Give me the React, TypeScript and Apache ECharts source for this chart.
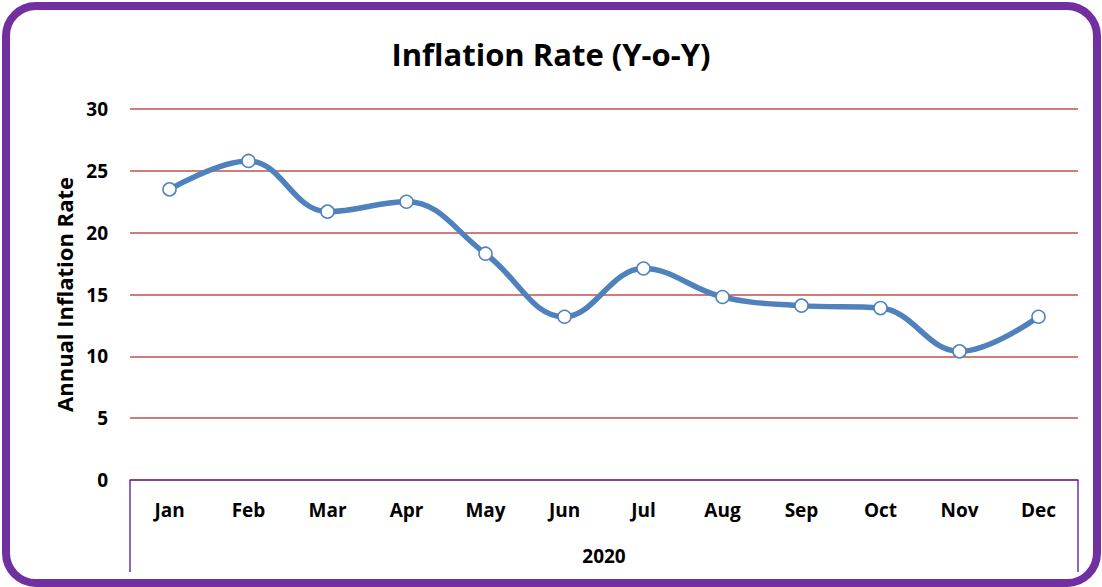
import React, { useEffect, useRef } from "react";
import * as echarts from "echarts";

const months = ["Jan", "Feb", "Mar", "Apr", "May", "Jun", "Jul", "Aug", "Sep", "Oct", "Nov", "Dec"];
const inflation = [23.5, 25.8, 21.7, 22.5, 18.3, 13.2, 17.1, 14.8, 14.1, 13.9, 10.4, 13.2];
const yearLabel = ["2020"];

const FONT = "'Open Sans', 'Noto Sans', sans-serif";

export default function App() {
  const ref = useRef<HTMLDivElement>(null);
  useEffect(() => {
    if (!ref.current) return;
    const chart = echarts.init(ref.current, null, { renderer: "svg" });
    chart.setOption({
      animation: false,
      textStyle: { fontFamily: FONT },
      title: {
        text: "Inflation Rate (Y-o-Y)",
        left: "center",
        top: 33,
        textStyle: { fontFamily: FONT, fontSize: 31, fontWeight: "bold", color: "#000" },
      },
      graphic: [
        {
          type: "rect",
          shape: { x: 6, y: 6, width: 1091, height: 577, r: 30 },
          style: { fill: "none", stroke: "#7030A0", lineWidth: 8 },
          silent: true,
        },
      ],
      grid: { left: 130, right: 24, top: 109, bottom: 107 },
      xAxis: [
        {
          type: "category",
          data: months,
          boundaryGap: true,
          position: "bottom",
          axisLine: { show: true, lineStyle: { color: "#7030A0", width: 1.5 } },
          axisTick: { show: false },
          axisLabel: { margin: 20, fontSize: 19, fontWeight: "bold", color: "#000", fontFamily: FONT },
          splitLine: { show: false },
        },
        {
          type: "category",
          data: yearLabel,
          boundaryGap: true,
          position: "bottom",
          axisLine: { show: false },
          axisTick: { show: true, length: 92, lineStyle: { color: "#7030A0", width: 1.5 } },
          axisLabel: { margin: 66, fontSize: 19, fontWeight: "bold", color: "#000", fontFamily: FONT },
          splitLine: { show: false },
        },
      ],
      yAxis: {
        type: "value",
        min: 0,
        max: 30,
        interval: 5,
        name: "Annual Inflation Rate",
        nameLocation: "middle",
        nameGap: 55,
        nameRotate: 90,
        nameTextStyle: { fontSize: 22, fontWeight: "bold", color: "#000", fontFamily: FONT },
        axisLine: { show: false },
        axisTick: { show: false },
        axisLabel: { margin: 22, fontSize: 19, fontWeight: "bold", color: "#000", fontFamily: FONT },
        splitLine: { show: true, lineStyle: { color: "#C0504D", width: 1.5 } },
      },
      series: [
        {
          type: "line",
          data: inflation,
          smooth: 0.4,
          symbol: "circle",
          symbolSize: 13,
          lineStyle: { color: "#4F81BD", width: 5.5 },
          itemStyle: { color: "#fff", borderColor: "#4F81BD", borderWidth: 1.5 },
        },
      ],
    });
    return () => chart.dispose();
  }, []);
  return (
    <div
      ref={ref}
      style={{ position: "fixed", left: 0, top: 0, width: 1102, height: 587, background: "#fff" }}
    />
  );
}
